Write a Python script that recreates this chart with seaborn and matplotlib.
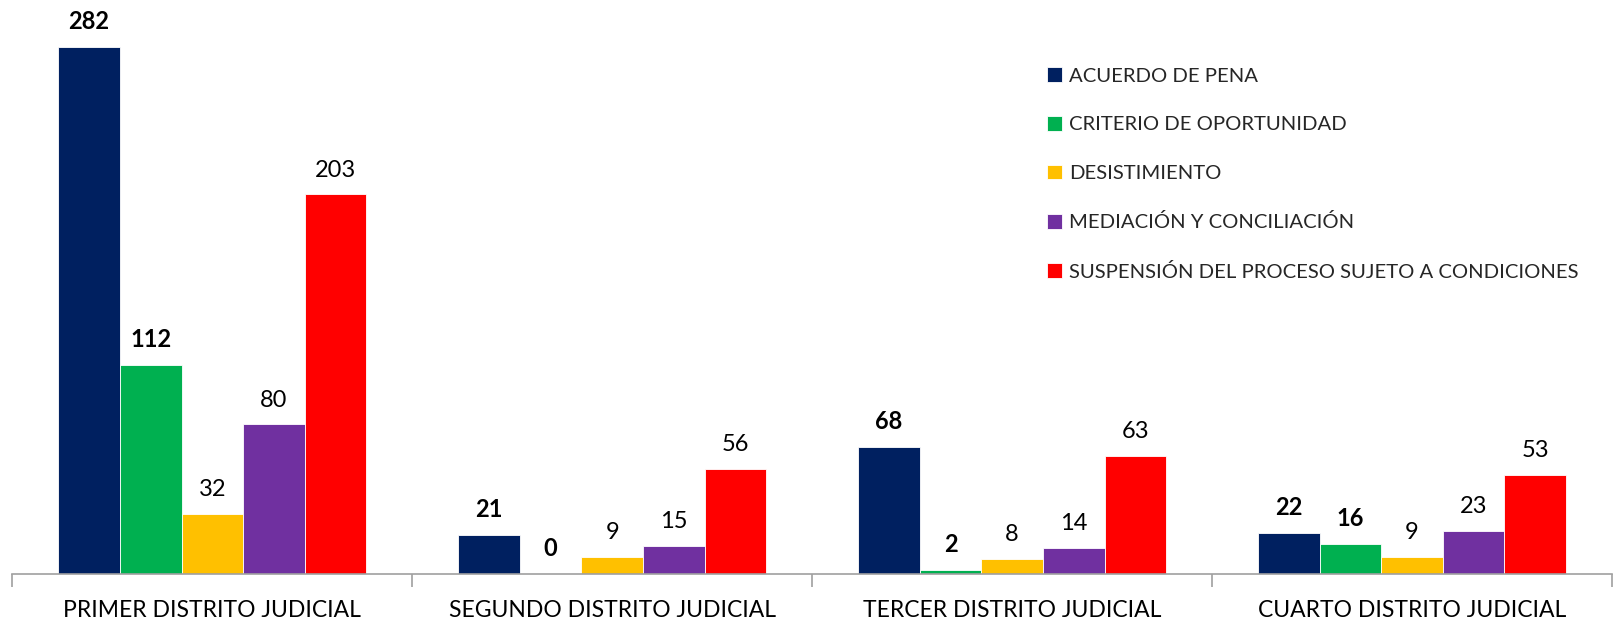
import matplotlib
matplotlib.use("Agg")
import matplotlib.pyplot as plt
import seaborn as sns
import pandas as pd
from matplotlib.ticker import FixedLocator

districts = ["PRIMER DISTRITO JUDICIAL", "SEGUNDO DISTRITO JUDICIAL",
             "TERCER DISTRITO JUDICIAL", "CUARTO DISTRITO JUDICIAL"]
series = ["ACUERDO DE PENA", "CRITERIO DE OPORTUNIDAD", "DESISTIMIENTO",
          "MEDIACIÓN Y CONCILIACIÓN", "SUSPENSIÓN DEL PROCESO SUJETO A CONDICIONES"]
acuerdo = [282, 21, 68, 22]
criterio = [112, 0, 2, 16]
desist = [32, 9, 8, 9]
mediacion = [80, 15, 14, 23]
suspension = [203, 56, 63, 53]
colors = ["#002060", "#00B050", "#FFC000", "#7030A0", "#FF0000"]
bold_series = [True, True, False, False, False]

sns.set_theme(style="white")
plt.rcParams['font.family'] = ['Lato', 'DejaVu Sans']

values = [acuerdo, criterio, desist, mediacion, suspension]
rows = []
for s, vals in zip(series, values):
    for d, v in zip(districts, vals):
        rows.append({"district": d, "series": s, "value": v})
df = pd.DataFrame(rows)

fig = plt.figure(figsize=(16.14, 6.26), dpi=100)
ax = fig.add_axes([12.4 / 1614, (626 - 574) / 626, (1612 - 12.4) / 1614, 574 / 626])
sns.barplot(data=df, x="district", y="value", hue="series", order=districts,
            hue_order=series, palette=colors, width=0.77, gap=0, saturation=1,
            errorbar=None, ax=ax, linewidth=0.6, edgecolor="white")

ax.set_xlim(-0.5, 3.5)
ax.set_ylim(0, 307)
for sp in ["top", "right", "left"]:
    ax.spines[sp].set_visible(False)
ax.spines["bottom"].set_color("#A0A0A0")
ax.spines["bottom"].set_linewidth(1.2)
ax.set_yticks([])
ax.set_xlabel("")
ax.set_ylabel("")
ax.xaxis.set_minor_locator(FixedLocator([-0.5, 0.5, 1.5, 2.5, 3.5]))
ax.tick_params(axis="x", which="major", length=0, pad=19, labelsize=16.5, labelcolor="black")
ax.tick_params(axis="x", which="minor", length=9, width=1.2, color="#A0A0A0", bottom=True)

for cont, b in zip(ax.containers, bold_series):
    ax.bar_label(cont, labels=[f"{int(v)}" for v in cont.datavalues], padding=10,
                 fontsize=17, fontweight="bold" if b else "normal", color="black")

leg = ax.legend(loc="upper left", bbox_to_anchor=(1039 / 1614, 1 - 59 / 626),
                bbox_transform=fig.transFigure, frameon=False, fontsize=14.6,
                handlelength=0.75, handleheight=0.75, handletextpad=0.35,
                labelspacing=1.54, borderaxespad=0)

fig.savefig("out.png", dpi=100)
